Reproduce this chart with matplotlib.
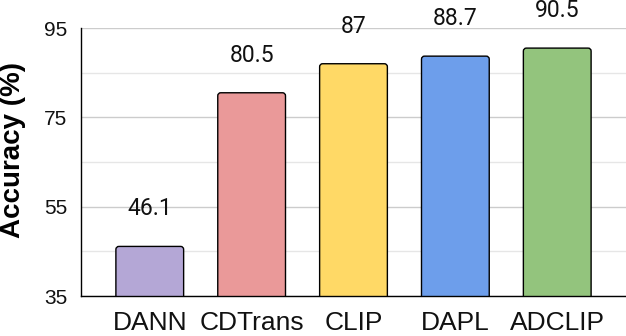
import matplotlib.pyplot as plt
from matplotlib.patches import FancyBboxPatch

methods = ['DANN', 'CDTrans', 'CLIP', 'DAPL', 'ADCLIP']
accuracy = [46.1, 80.5, 87, 88.7, 90.5]
value_labels = ['46.1', '80.5', '87', '88.7', '90.5']
colors = ['#b4a7d6', '#ea9999', '#ffd966', '#6d9eeb', '#93c47d']
y_major = [35, 55, 75, 95]
y_minor = [45, 65, 85]

fig = plt.figure(figsize=(6.26, 3.36), dpi=100)
ax = fig.add_axes([81 / 626, 1 - 296 / 336, 545 / 626, 268 / 336])

bars = ax.bar(range(len(methods)), accuracy, width=0.665,
              color=colors, edgecolor='black', linewidth=1.0, zorder=3)
ax.set_xlim(-0.675, 4.675)
ax.set_ylim(35, 95)

# swap plain rectangles for slightly rounded ones
px_x = 545 / 5.35
px_y = 268 / 60
for b in bars:
    b.set_visible(False)
    rb = FancyBboxPatch((b.get_x(), b.get_y()), b.get_width(), b.get_height(),
                        boxstyle='round,pad=0,rounding_size=0.03',
                        mutation_aspect=px_x / px_y,
                        facecolor=b.get_facecolor(), edgecolor='black',
                        linewidth=1.0, zorder=3, clip_on=True)
    ax.add_patch(rb)

for i, (v, t) in enumerate(zip(accuracy, value_labels)):
    ax.text(i, v + 8.4, t, ha='center', va='center', fontsize=16.5,
            family='Roboto', color='#111111', zorder=4, clip_on=False)

ax.set_yticks(y_major)
ax.set_yticks(y_minor, minor=True)
ax.grid(axis='y', which='major', color='#cccccc', linewidth=1.0, zorder=0)
ax.grid(axis='y', which='minor', color='#e6e6e6', linewidth=1.0, zorder=0)
ax.tick_params(axis='y', which='both', length=0, pad=10, labelsize=15)
ax.tick_params(axis='x', length=0, pad=11, labelsize=19)
ax.set_xticks(range(len(methods)))
ax.set_xticklabels(methods)
for lab in ax.get_xticklabels() + ax.get_yticklabels():
    lab.set_family('Liberation Sans')
    lab.set_color('#111111')

for s in ['top', 'right']:
    ax.spines[s].set_visible(False)
for s in ['left', 'bottom']:
    ax.spines[s].set_color('black')
    ax.spines[s].set_linewidth(1.0)
    ax.spines[s].set_zorder(5)

ax.set_ylabel('Accuracy (%)', fontsize=20, fontweight='bold',
              family='Liberation Sans')
ax.yaxis.set_label_coords(-0.101, 0.545)

fig.savefig('out.png', dpi=100)
